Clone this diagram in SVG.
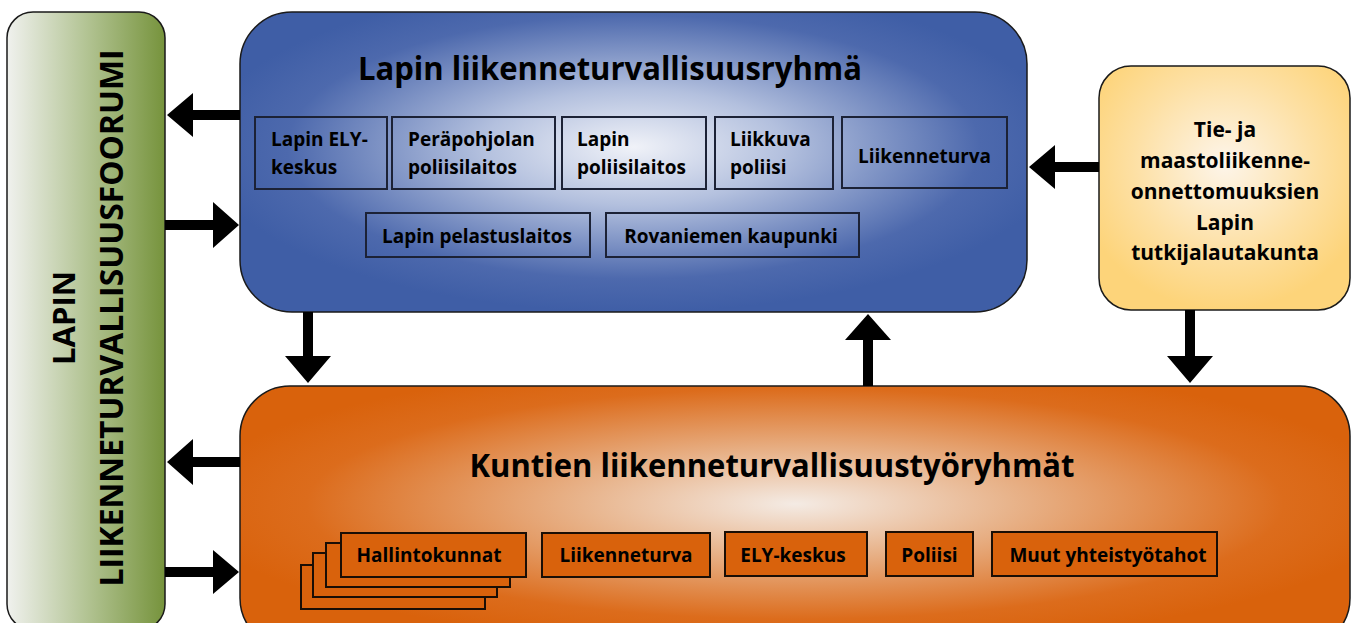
<svg xmlns="http://www.w3.org/2000/svg" width="1359" height="623" viewBox="0 0 1359 623">
<defs>
<linearGradient id="gGreen" x1="0" y1="0" x2="1" y2="0">
<stop offset="0" stop-color="#f0f1ee"/>
<stop offset="0.5" stop-color="#b3c494"/>
<stop offset="1" stop-color="#76933c"/>
</linearGradient>
<radialGradient id="gBlue" cx="0.5" cy="0.45" r="0.55">
<stop offset="0" stop-color="#f0f2f8"/>
<stop offset="0.35" stop-color="#b3c0de"/>
<stop offset="0.8" stop-color="#4d69ad"/>
<stop offset="1" stop-color="#3f5ea6"/>
</radialGradient>
<radialGradient id="gOrange" cx="0.5" cy="0.45" r="0.55">
<stop offset="0" stop-color="#f4ebe4"/>
<stop offset="0.35" stop-color="#e8b48c"/>
<stop offset="0.8" stop-color="#dc6c1c"/>
<stop offset="1" stop-color="#d9620c"/>
</radialGradient>
<radialGradient id="gYellow" cx="0.5" cy="0.4" r="0.6">
<stop offset="0" stop-color="#fdf5ea"/>
<stop offset="0.6" stop-color="#fde0a4"/>
<stop offset="1" stop-color="#fdd47a"/>
</radialGradient>
</defs>
<style>
.big{stroke:#1a1a1a;stroke-width:1.5}
.t{font-family:"Open Sans","Liberation Sans",sans-serif;font-weight:bold;fill:#000}
.title{font-size:32px;text-anchor:middle}
.in{font-size:19px}
.y{font-size:21px;text-anchor:middle}
.c{text-anchor:middle}
.bbox{fill:none;stroke:#1c2236;stroke-width:2}
.obox{fill:#d9620c;stroke:#1a0e05;stroke-width:2}
.arr{fill:#000}
</style>

<g id="forum">
<rect class="big" x="7" y="12" width="158" height="618" rx="26" fill="url(#gGreen)"/>
<text class="t" font-size="31" text-anchor="middle" transform="translate(75,318) rotate(-90)">LAPIN</text>
<text class="t" font-size="33" text-anchor="middle" textLength="537" lengthAdjust="spacingAndGlyphs" transform="translate(123,318) rotate(-90)">LIIKENNETURVALLISUUSFOORUMI</text>
</g>

<g id="ryhma">
<rect class="big" x="240" y="12" width="787" height="300" rx="52" fill="url(#gBlue)"/>
<text class="t title" x="610" y="80" textLength="504" lengthAdjust="spacingAndGlyphs">Lapin liikenneturvallisuusryhmä</text>
</g>
<g id="ely">
<rect class="bbox" x="255" y="117" width="132" height="72"/>
<text class="t in" x="271" y="146">Lapin ELY-</text>
<text class="t in" x="271" y="174">keskus</text>
</g>
<g id="perapohjola">
<rect class="bbox" x="392" y="117" width="163" height="72"/>
<text class="t in" x="408" y="146">Peräpohjolan</text>
<text class="t in" x="408" y="174">poliisilaitos</text>
</g>
<g id="lapinpoliisi">
<rect class="bbox" x="562" y="117" width="144" height="72"/>
<text class="t in" x="577" y="146">Lapin</text>
<text class="t in" x="577" y="174">poliisilaitos</text>
</g>
<g id="liikkuva">
<rect class="bbox" x="715" y="117" width="118" height="72"/>
<text class="t in" x="730" y="146">Liikkuva</text>
<text class="t in" x="730" y="174">poliisi</text>
</g>
<g id="liikenneturva1">
<rect class="bbox" x="842" y="117" width="165" height="71"/>
<text class="t in c" x="924.5" y="163">Liikenneturva</text>
</g>
<g id="pelastus">
<rect class="bbox" x="366" y="213" width="224" height="44"/>
<text class="t in c" x="477" y="243">Lapin pelastuslaitos</text>
</g>
<g id="rovaniemi">
<rect class="bbox" x="606" y="213" width="253" height="44"/>
<text class="t in c" x="731" y="243">Rovaniemen kaupunki</text>
</g>

<g id="tutkija">
<rect class="big" x="1099" y="66" width="251" height="244" rx="32" fill="url(#gYellow)"/>
<text class="t y" x="1225" y="137">Tie- ja</text>
<text class="t y" x="1225" y="168">maastoliikenne-</text>
<text class="t y" x="1225" y="199">onnettomuuksien</text>
<text class="t y" x="1225" y="230">Lapin</text>
<text class="t y" x="1225" y="260">tutkijalautakunta</text>
</g>

<g id="kunnat">
<rect class="big" x="240" y="386" width="1110" height="262" rx="50" fill="url(#gOrange)"/>
<text class="t title" x="772" y="477" textLength="605" lengthAdjust="spacingAndGlyphs">Kuntien liikenneturvallisuustyöryhmät</text>
</g>
<g id="hallintokunnat">
<rect class="obox" x="301" y="565" width="184" height="44"/>
<rect class="obox" x="313" y="553" width="184" height="44"/>
<rect class="obox" x="326" y="543" width="184" height="44"/>
<rect class="obox" x="341" y="533" width="185" height="44"/>
<text class="t in c" x="429" y="562">Hallintokunnat</text>
</g>
<g id="liikenneturva2">
<rect class="obox" x="542" y="533" width="168" height="44"/>
<text class="t in c" x="626" y="562">Liikenneturva</text>
</g>
<g id="elykeskus">
<rect class="obox" x="725" y="532" width="142" height="44"/>
<text class="t in c" x="793" y="562">ELY-keskus</text>
</g>
<g id="poliisi">
<rect class="obox" x="886" y="532" width="87" height="44"/>
<text class="t in c" x="929.5" y="562">Poliisi</text>
</g>
<g id="muut">
<rect class="obox" x="992" y="532" width="225" height="44"/>
<text class="t in c" x="1108" y="562">Muut yhteistyötahot</text>
</g>

<g id="connectors">
<polygon class="arr" points="240,110 193,110 193,93 167,115 193,137 193,120 240,120"/>
<polygon class="arr" points="165,220 213,220 213,202 239,225 213,248 213,230 165,230"/>
<polygon class="arr" points="240,457 193,457 193,439 167,462 193,485 193,467 240,467"/>
<polygon class="arr" points="165,567 213,567 213,550 239,572 213,594 213,577 165,577"/>
<polygon class="arr" points="1099,162 1055,162 1055,145 1029,167 1055,189 1055,172 1099,172"/>
<polygon class="arr" points="1185,310 1185,356 1167,356 1190,383 1213,356 1195,356 1195,310"/>
<polygon class="arr" points="303,312 303,356 285,356 308,383 331,356 313,356 313,312"/>
<polygon class="arr" points="863,386 863,340 845,340 868,314 891,340 873,340 873,386"/>
</g>
</svg>
